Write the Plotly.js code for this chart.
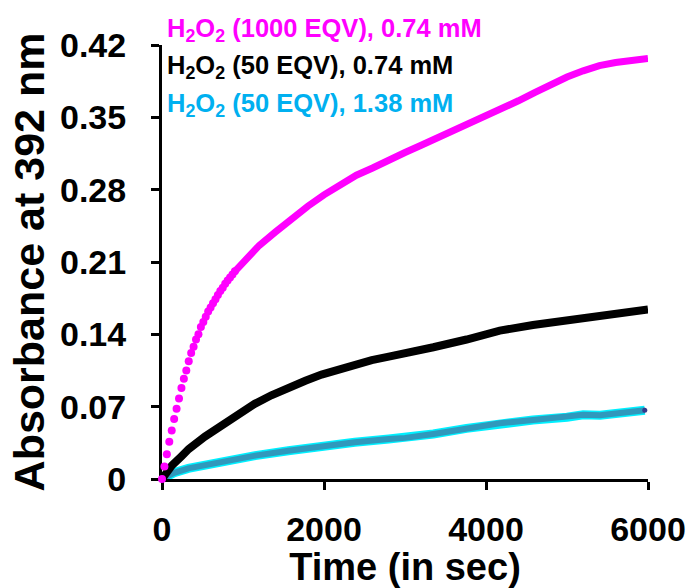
<!DOCTYPE html>
<html>
<head>
<meta charset="utf-8">
<script src="https://cdn.plot.ly/plotly-3.0.1.min.js"></script>
<style>html,body{margin:0;padding:0;background:#fff;}#chart{width:692px;height:588px;}</style>
</head>
<body>
<div id="chart"></div>
<script>
// Magenta series (1000 EQV, 0.74 mM): early part drawn as separate dots
const magDotTime = [0,30,60,90,120,150,180,210,240,270,300,330,360,390,420,450,480,510,540,570,600,630,660,690,720,750,780,810,840,870,900];
const magDotAbs  = [0.000,0.012,0.024,0.036,0.047,0.058,0.068,0.078,0.088,0.097,0.105,0.114,0.122,0.128,0.135,0.140,0.147,0.152,0.157,0.162,0.166,0.170,0.174,0.178,0.182,0.185,0.189,0.192,0.195,0.198,0.201];
// Magenta series: later part (dense points merge into a line)
const magLineTime = [900,1000,1200,1400,1600,1800,2000,2200,2400,2600,2800,3000,3200,3400,3600,3800,4000,4200,4400,4600,4800,5000,5200,5400,5600,5800,6000];
const magLineAbs  = [0.201,0.210,0.226,0.239,0.252,0.264,0.275,0.285,0.294,0.301,0.309,0.316,0.323,0.330,0.337,0.344,0.351,0.358,0.366,0.374,0.382,0.389,0.395,0.400,0.403,0.405,0.407];
// Black series (50 EQV, 0.74 mM)
const blkTime = [0,60,120,240,330,530,740,940,1150,1350,1560,1770,1970,2180,2380,2590,2800,3000,3350,3760,4170,4580,5000,5410,5820,6000];
const blkAbs  = [0,0.007,0.013,0.022,0.029,0.041,0.052,0.063,0.073,0.081,0.089,0.095,0.101,0.106,0.111,0.115,0.1185,0.1215,0.1275,0.135,0.1436,0.149,0.153,0.1575,0.162,0.164];
// Cyan series (50 EQV, 1.38 mM)
const cyTime = [0,150,325,740,1150,1560,1970,2380,2800,3000,3350,3760,4170,4580,5000,5200,5410,5610,5820,5960];
const cyAbs  = [0,0.006,0.0103,0.0168,0.0226,0.0274,0.0319,0.0355,0.0387,0.0398,0.0436,0.049,0.0539,0.0571,0.0597,0.0622,0.0617,0.0636,0.0658,0.0665];

const yTicks = [0,0.07,0.14,0.21,0.28,0.35,0.42];
const yTickText = ['0','0.07','0.14','0.21','0.28','0.35','0.42'];
const xTicks = [0,2000,4000,6000];
const xTickText = ['0','2000','4000','6000'];

const legendLines = [
  {text:'H<sub>2</sub>O<sub>2</sub> (1000 EQV), 0.74 mM', color:'#FF00FF'},
  {text:'H<sub>2</sub>O<sub>2</sub> (50 EQV), 0.74 mM', color:'#000000'},
  {text:'H<sub>2</sub>O<sub>2</sub> (50 EQV), 1.38 mM', color:'#00B0F0'}
];
const legendY = [1.0346, 0.949, 0.862];

const FONT = 'Liberation Sans, Arial, sans-serif';

const traces = [
  {x: cyTime, y: cyAbs, mode:'lines', line:{color:'#00F0FF', width:9}, cliponaxis:false},
  {x: cyTime, y: cyAbs, mode:'lines', line:{color:'#3098BC', width:6}, cliponaxis:false},
  {x: [cyTime[cyTime.length-1]], y:[cyAbs[cyAbs.length-1]], mode:'markers', marker:{color:'#333A8C', size:5}, cliponaxis:false},
  {x: blkTime, y: blkAbs, mode:'lines', line:{color:'#000000', width:8}, cliponaxis:false},
  {x: magLineTime, y: magLineAbs, mode:'lines', line:{color:'#FF00FF', width:7}, cliponaxis:false},
  {x: magDotTime, y: magDotAbs, mode:'markers', marker:{color:'#FF00FF', size:8}, cliponaxis:false}
];

const annotations = legendLines.map((l,i)=>({
  xref:'paper', yref:'paper', x:0.006, y:legendY[i],
  xanchor:'left', yanchor:'middle', showarrow:false, align:'left',
  text:l.text, font:{family:FONT, size:25.5, color:l.color, weight:'bold'}
}));

const axisCommon = {
  showgrid:false, zeroline:false, showline:true, linecolor:'#000', linewidth:3,
  ticks:'outside', ticklen:8, tickwidth:3, tickcolor:'#000', layer:'below traces',
  tickfont:{family:FONT, size:34, color:'#000', weight:'bold'}
};

const layout = {
  width:692, height:588,
  margin:{l:162, r:44, t:45, b:109},
  paper_bgcolor:'#fff', plot_bgcolor:'#fff',
  showlegend:false,
  xaxis: Object.assign({}, axisCommon, {
    range:[0,6000], tickvals:xTicks, ticktext:xTickText, ticklabelstandoff:10,
    title:{text:'Time (in sec)', font:{family:FONT, size:38, color:'#000', weight:'bold'}, standoff:20}
  }),
  yaxis: Object.assign({}, axisCommon, {
    range:[0,0.42], tickvals:yTicks, ticktext:yTickText, ticklabelstandoff:18,
    title:{text:'Absorbance at 392 nm', font:{family:FONT, size:43, color:'#000', weight:'bold'}, standoff:2}
  }),
  annotations: annotations
};

Plotly.newPlot('chart', traces, layout, {displayModeBar:false, staticPlot:true});
</script>
</body>
</html>
